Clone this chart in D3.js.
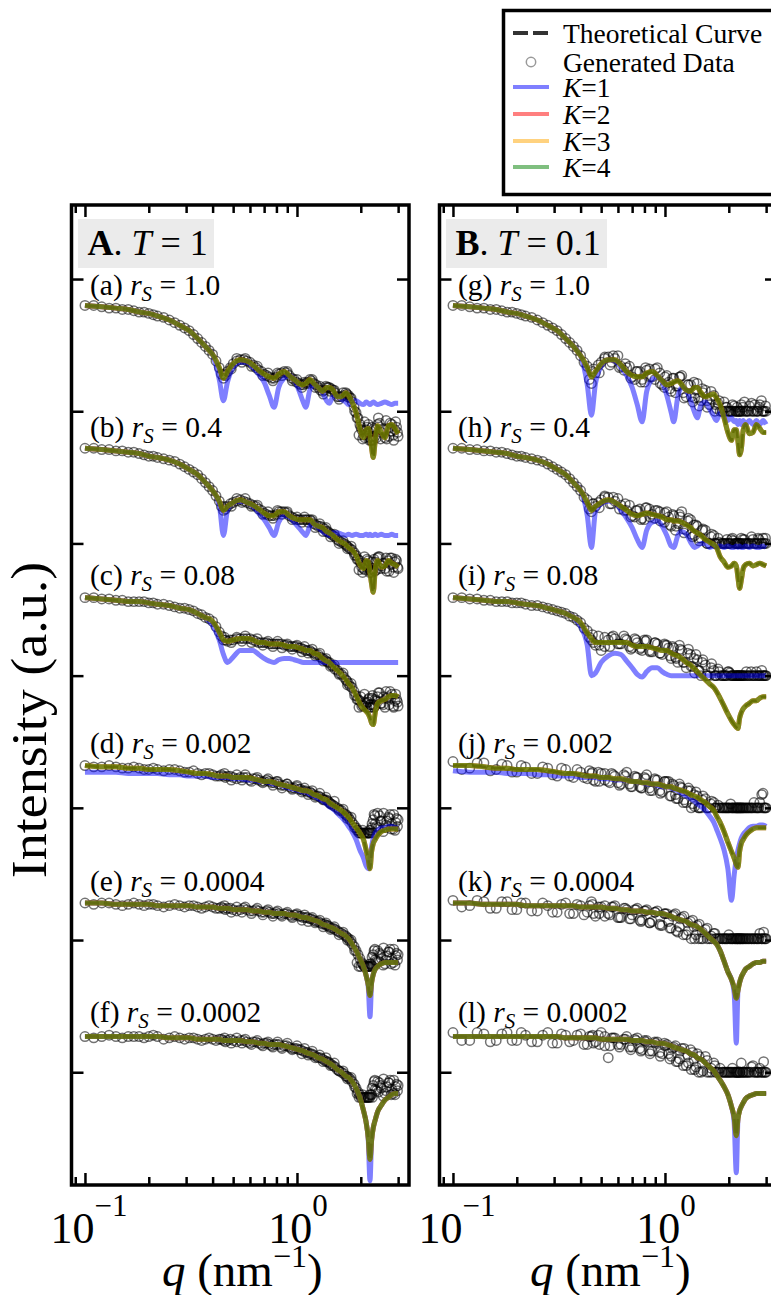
<!DOCTYPE html>
<html>
<head>
<meta charset="utf-8">
<script src="https://cdn.jsdelivr.net/npm/d3@7"></script>
<style>
  body { margin: 0; background: #fff; }
  svg text { font-family: "Liberation Serif", "Times New Roman", serif; fill: #000; }
</style>
</head>
<body>
<div id="chart"></div>
<script>
// q grid (nm^-1) shared by the curves and the generated data
var qGrid = [0.10,0.12,0.14,0.16,0.18,0.20,0.22,0.25,0.28,0.31,0.34,0.37,0.40,0.43,0.45,0.47,0.50,0.54,0.58,0.62,0.66,0.70,0.74,0.78,0.82,0.87,0.92,0.97,1.02,1.07,1.10,1.15,1.20,1.26,1.32,1.38,1.42,1.48,1.55,1.62,1.70,1.75,1.82,1.90,1.98,2.06,2.12,2.17,2.21,2.25,2.29,2.34,2.40,2.50,2.60,2.70,2.80,2.90,3.00];
// further generated points
var qLow = [0.11,0.13,0.15,0.17,0.19,0.21,0.235,0.265,0.295,0.325,0.355,0.385,0.415,0.44,0.46,0.485,0.52,0.56,0.60,0.64,0.68,0.72,0.76,0.80,0.845,0.895,0.945,0.995];
var qMid = [0.455,0.49,0.52,0.55,0.57,0.61,0.65,0.69,0.73,0.77,0.81,0.85,0.90,0.95,1.00,1.055,1.085,1.13,1.18,1.22,1.28,1.33,1.37,1.44,1.50,1.58,1.65,1.73,1.80,1.87];
var qDense = [1.04,1.12,1.17,1.23,1.29,1.35,1.40,1.45,1.51,1.58,1.66,1.72,1.78,1.86,1.94,2.02,2.09,2.14,2.19,2.23,2.27,2.31,2.37,2.45,2.55,2.65,2.75,2.85,2.95];
var qCluster = [1.92,1.96,2.00,2.04,2.08,2.16,2.20,2.26,2.33,2.42,2.48,2.56,2.63,2.72,2.78,2.86,2.92,2.98];

// all values are log10(intensity), already offset per curve

// ---- panel A, T = 1
var fit_a = [-0.20,-0.21,-0.22,-0.23,-0.25,-0.26,-0.28,-0.31,-0.35,-0.39,-0.45,-0.51,-0.57,-0.67,-0.75,-0.70,-0.64,-0.61,-0.62,-0.65,-0.69,-0.72,-0.74,-0.75,-0.72,-0.70,-0.73,-0.76,-0.79,-0.80,-0.79,-0.76,-0.79,-0.82,-0.85,-0.82,-0.82,-0.84,-0.89,-0.89,-0.86,-0.88,-0.93,-1.01,-1.13,-1.20,-1.14,-1.13,-1.19,-1.28,-1.35,-1.22,-1.11,-1.16,-1.20,-1.11,-1.10,-1.13,-1.17];
var k1_a = [-0.20,-0.21,-0.22,-0.23,-0.25,-0.26,-0.28,-0.31,-0.35,-0.39,-0.45,-0.51,-0.57,-0.76,-0.92,-0.78,-0.67,-0.63,-0.63,-0.67,-0.72,-0.78,-0.88,-0.97,-0.82,-0.75,-0.73,-0.76,-0.84,-0.93,-0.97,-0.84,-0.80,-0.82,-0.86,-0.92,-0.94,-0.89,-0.89,-0.91,-0.93,-0.95,-0.92,-0.92,-0.94,-0.95,-0.93,-0.94,-0.95,-0.94,-0.93,-0.94,-0.95,-0.94,-0.93,-0.94,-0.95,-0.94,-0.94];
var data_a = [-0.20,-0.21,-0.22,-0.23,-0.25,-0.26,-0.28,-0.31,-0.35,-0.39,-0.45,-0.51,-0.57,-0.67,-0.75,-0.70,-0.64,-0.61,-0.62,-0.65,-0.69,-0.72,-0.74,-0.75,-0.72,-0.70,-0.73,-0.76,-0.79,-0.80,-0.79,-0.76,-0.79,-0.82,-0.85,-0.82,-0.82,-0.84,-0.89,-0.89,-0.86,-0.88,-0.93,-1.01,-1.10,-1.18,-1.14,-1.10,-1.20,-1.22,-1.22,-1.14,-1.10,-1.16,-1.20,-1.13,-1.10,-1.14,-1.19];
var low_a = [-0.20,-0.22,-0.23,-0.24,-0.25,-0.27,-0.29,-0.33,-0.37,-0.42,-0.48,-0.54,-0.62,-0.72,-0.73,-0.67,-0.62,-0.61,-0.63,-0.67,-0.70,-0.73,-0.75,-0.74,-0.71,-0.71,-0.75,-0.78];
var mid_a = [-0.72,-0.68,-0.60,-0.63,-0.60,-0.66,-0.66,-0.73,-0.71,-0.77,-0.71,-0.73,-0.70,-0.77,-0.76,-0.82,-0.78,-0.79,-0.76,-0.82,-0.81,-0.87,-0.81,-0.85,-0.84,-0.91,-0.86,-0.89,-0.90,-1.00];
var dense_a = [-0.80,-0.78,-0.77,-0.80,-0.84,-0.84,-0.82,-0.83,-0.86,-0.89,-0.88,-0.87,-0.90,-0.97,-1.05,-1.14,-1.20,-1.12,-1.16,-1.22,-1.19,-1.13,-1.20,-1.09,-1.14,-1.21,-1.09,-1.18,-1.12];
var clust_a = [-1.05,-1.18,-1.12,-1.21,-1.08,-1.16,-1.22,-1.12,-1.19,-1.05,-1.21,-1.13,-1.07,-1.19,-1.15,-1.22,-1.08,-1.16];

var fit_b = [-1.28,-1.29,-1.30,-1.31,-1.32,-1.34,-1.35,-1.37,-1.40,-1.44,-1.48,-1.54,-1.60,-1.68,-1.75,-1.72,-1.69,-1.67,-1.69,-1.71,-1.74,-1.77,-1.79,-1.79,-1.76,-1.76,-1.79,-1.81,-1.82,-1.82,-1.82,-1.82,-1.85,-1.87,-1.88,-1.91,-1.92,-1.94,-1.97,-1.99,-2.01,-2.03,-2.05,-2.09,-2.16,-2.19,-2.13,-2.14,-2.22,-2.31,-2.37,-2.20,-2.13,-2.18,-2.17,-2.13,-2.15,-2.16,-2.18];
var k1_b = [-1.28,-1.29,-1.30,-1.31,-1.32,-1.34,-1.35,-1.37,-1.40,-1.44,-1.48,-1.54,-1.60,-1.71,-1.94,-1.75,-1.69,-1.68,-1.69,-1.72,-1.77,-1.82,-1.88,-1.94,-1.84,-1.79,-1.80,-1.84,-1.88,-1.92,-1.94,-1.87,-1.85,-1.88,-1.91,-1.93,-1.94,-1.92,-1.92,-1.93,-1.94,-1.93,-1.94,-1.93,-1.94,-1.94,-1.93,-1.94,-1.93,-1.94,-1.94,-1.93,-1.94,-1.93,-1.94,-1.94,-1.93,-1.94,-1.94];
var data_b = [-1.28,-1.29,-1.30,-1.31,-1.32,-1.34,-1.35,-1.37,-1.40,-1.44,-1.48,-1.54,-1.60,-1.68,-1.75,-1.72,-1.69,-1.67,-1.69,-1.71,-1.74,-1.77,-1.79,-1.79,-1.76,-1.76,-1.79,-1.81,-1.82,-1.82,-1.82,-1.82,-1.85,-1.87,-1.88,-1.91,-1.92,-1.94,-1.97,-1.99,-2.01,-2.03,-2.05,-2.09,-2.13,-2.19,-2.16,-2.13,-2.20,-2.22,-2.20,-2.14,-2.11,-2.17,-2.19,-2.13,-2.11,-2.14,-2.19];
var low_b = [-1.28,-1.29,-1.30,-1.31,-1.33,-1.34,-1.36,-1.38,-1.42,-1.46,-1.51,-1.57,-1.64,-1.72,-1.74,-1.70,-1.68,-1.68,-1.70,-1.72,-1.75,-1.78,-1.79,-1.78,-1.76,-1.77,-1.80,-1.82];
var mid_b = [-1.72,-1.72,-1.66,-1.69,-1.66,-1.72,-1.71,-1.78,-1.76,-1.81,-1.75,-1.78,-1.76,-1.82,-1.80,-1.84,-1.80,-1.84,-1.82,-1.88,-1.85,-1.91,-1.88,-1.95,-1.93,-2.00,-1.98,-2.04,-2.02,-2.09];
var dense_b = [-1.82,-1.82,-1.83,-1.86,-1.87,-1.89,-1.91,-1.93,-1.95,-1.98,-2.00,-2.02,-2.04,-2.07,-2.12,-2.18,-2.20,-2.12,-2.17,-2.21,-2.19,-2.12,-2.20,-2.10,-2.15,-2.21,-2.11,-2.18,-2.13];
var clust_b = [-2.12,-2.20,-2.15,-2.22,-2.10,-2.18,-2.22,-2.14,-2.21,-2.10,-2.19,-2.15,-2.11,-2.21,-2.16,-2.22,-2.12,-2.18];

var fit_c = [-2.41,-2.42,-2.43,-2.44,-2.44,-2.45,-2.46,-2.47,-2.49,-2.50,-2.53,-2.56,-2.59,-2.67,-2.73,-2.74,-2.73,-2.72,-2.72,-2.73,-2.75,-2.75,-2.76,-2.76,-2.76,-2.77,-2.78,-2.78,-2.79,-2.80,-2.81,-2.81,-2.83,-2.84,-2.87,-2.89,-2.90,-2.93,-2.96,-2.99,-3.03,-3.06,-3.09,-3.15,-3.21,-3.25,-3.27,-3.29,-3.32,-3.36,-3.37,-3.28,-3.21,-3.19,-3.18,-3.16,-3.15,-3.15,-3.16];
var k1_c = [-2.41,-2.42,-2.43,-2.44,-2.44,-2.45,-2.46,-2.47,-2.49,-2.50,-2.53,-2.56,-2.62,-2.73,-2.84,-2.90,-2.86,-2.81,-2.81,-2.81,-2.84,-2.87,-2.89,-2.90,-2.88,-2.87,-2.87,-2.88,-2.89,-2.90,-2.90,-2.90,-2.90,-2.90,-2.90,-2.90,-2.90,-2.90,-2.90,-2.90,-2.90,-2.90,-2.90,-2.90,-2.90,-2.90,-2.90,-2.90,-2.90,-2.90,-2.90,-2.90,-2.90,-2.90,-2.90,-2.90,-2.90,-2.90,-2.90];
var data_c = [-2.41,-2.42,-2.43,-2.44,-2.44,-2.45,-2.46,-2.47,-2.49,-2.50,-2.53,-2.56,-2.59,-2.67,-2.73,-2.74,-2.73,-2.72,-2.72,-2.73,-2.75,-2.75,-2.76,-2.76,-2.76,-2.77,-2.78,-2.78,-2.79,-2.80,-2.81,-2.81,-2.83,-2.84,-2.87,-2.89,-2.90,-2.93,-2.96,-2.99,-3.03,-3.06,-3.09,-3.15,-3.19,-3.23,-3.21,-3.18,-3.22,-3.24,-3.22,-3.18,-3.16,-3.21,-3.24,-3.16,-3.14,-3.19,-3.23];
var low_c = [-2.41,-2.42,-2.43,-2.44,-2.44,-2.45,-2.46,-2.48,-2.49,-2.51,-2.54,-2.57,-2.63,-2.70,-2.73,-2.73,-2.72,-2.72,-2.72,-2.74,-2.75,-2.75,-2.76,-2.76,-2.76,-2.77,-2.78,-2.78];
var mid_c = [-2.71,-2.75,-2.71,-2.74,-2.70,-2.75,-2.72,-2.77,-2.74,-2.78,-2.74,-2.79,-2.76,-2.80,-2.77,-2.82,-2.78,-2.83,-2.80,-2.85,-2.83,-2.89,-2.87,-2.93,-2.92,-2.99,-2.98,-3.07,-3.06,-3.15];
var dense_c = [-2.79,-2.81,-2.82,-2.84,-2.86,-2.88,-2.90,-2.92,-2.95,-2.98,-3.01,-3.04,-3.08,-3.12,-3.18,-3.23,-3.20,-3.24,-3.17,-3.22,-3.15,-3.24,-3.19,-3.13,-3.22,-3.17,-3.12,-3.23,-3.18];
var clust_c = [-3.18,-3.24,-3.16,-3.22,-3.14,-3.20,-3.24,-3.17,-3.23,-3.13,-3.21,-3.16,-3.12,-3.22,-3.17,-3.24,-3.14,-3.20];

var fit_d = [-3.68,-3.69,-3.69,-3.70,-3.70,-3.71,-3.71,-3.71,-3.72,-3.73,-3.74,-3.74,-3.75,-3.76,-3.76,-3.76,-3.77,-3.77,-3.77,-3.78,-3.79,-3.80,-3.80,-3.81,-3.82,-3.83,-3.84,-3.85,-3.86,-3.87,-3.87,-3.88,-3.90,-3.91,-3.93,-3.94,-3.96,-3.98,-4.00,-4.02,-4.05,-4.07,-4.11,-4.15,-4.19,-4.24,-4.32,-4.39,-4.46,-4.33,-4.27,-4.24,-4.21,-4.18,-4.17,-4.16,-4.16,-4.16,-4.16];
var k1_d = [-3.73,-3.73,-3.73,-3.74,-3.74,-3.74,-3.74,-3.75,-3.75,-3.76,-3.76,-3.76,-3.77,-3.77,-3.77,-3.77,-3.78,-3.78,-3.79,-3.79,-3.80,-3.80,-3.81,-3.82,-3.82,-3.84,-3.85,-3.86,-3.87,-3.88,-3.88,-3.90,-3.91,-3.93,-3.95,-3.97,-3.99,-4.01,-4.04,-4.07,-4.11,-4.14,-4.18,-4.24,-4.32,-4.38,-4.44,-4.46,-4.38,-4.29,-4.23,-4.19,-4.17,-4.15,-4.15,-4.14,-4.14,-4.15,-4.15];
var data_d = [-3.68,-3.69,-3.69,-3.70,-3.70,-3.71,-3.71,-3.71,-3.72,-3.73,-3.74,-3.74,-3.75,-3.76,-3.76,-3.76,-3.77,-3.77,-3.77,-3.78,-3.79,-3.80,-3.80,-3.81,-3.82,-3.83,-3.84,-3.85,-3.86,-3.87,-3.87,-3.88,-3.90,-3.91,-3.93,-3.94,-3.96,-3.98,-4.00,-4.02,-4.05,-4.07,-4.11,-4.15,-4.19,-4.19,-4.19,-4.19,-4.19,-4.15,-4.09,-4.12,-4.04,-4.10,-4.15,-4.07,-4.12,-4.17,-4.09];
var low_d = [-3.69,-3.68,-3.70,-3.69,-3.71,-3.70,-3.72,-3.71,-3.73,-3.72,-3.75,-3.74,-3.76,-3.75,-3.77,-3.76,-3.78,-3.77,-3.79,-3.78,-3.80,-3.79,-3.81,-3.80,-3.83,-3.82,-3.85,-3.84];
var mid_d = [-3.74,-3.79,-3.75,-3.79,-3.75,-3.80,-3.77,-3.81,-3.78,-3.83,-3.80,-3.85,-3.82,-3.86,-3.83,-3.88,-3.85,-3.90,-3.87,-3.92,-3.89,-3.94,-3.92,-3.97,-3.95,-4.02,-4.01,-4.08,-4.07,-4.15];
var dense_d = [-3.86,-3.88,-3.89,-3.91,-3.92,-3.94,-3.95,-3.97,-3.99,-4.01,-4.04,-4.06,-4.09,-4.13,-4.17,-4.19,-4.19,-4.19,-4.19,-4.17,-4.19,-4.05,-4.14,-4.06,-4.18,-4.10,-4.05,-4.16,-4.08];
var clust_d = [-4.17,-4.19,-4.19,-4.17,-4.19,-4.19,-4.17,-4.12,-4.06,-4.15,-4.10,-4.04,-4.13,-4.08,-4.16,-4.05,-4.11,-4.14];

var fit_e = [-4.72,-4.72,-4.73,-4.73,-4.73,-4.73,-4.74,-4.74,-4.74,-4.74,-4.75,-4.75,-4.75,-4.76,-4.76,-4.76,-4.77,-4.77,-4.77,-4.78,-4.78,-4.79,-4.79,-4.80,-4.80,-4.80,-4.81,-4.81,-4.82,-4.83,-4.83,-4.84,-4.85,-4.86,-4.88,-4.89,-4.90,-4.91,-4.93,-4.95,-4.97,-4.99,-5.03,-5.08,-5.14,-5.20,-5.27,-5.34,-5.42,-5.32,-5.26,-5.22,-5.20,-5.18,-5.17,-5.17,-5.17,-5.17,-5.17];
var k1_e = [-4.72,-4.72,-4.73,-4.73,-4.73,-4.73,-4.74,-4.74,-4.74,-4.74,-4.75,-4.75,-4.75,-4.76,-4.76,-4.76,-4.77,-4.77,-4.77,-4.78,-4.78,-4.79,-4.79,-4.80,-4.80,-4.80,-4.81,-4.81,-4.82,-4.83,-4.83,-4.84,-4.85,-4.86,-4.88,-4.89,-4.90,-4.91,-4.93,-4.95,-4.97,-4.99,-5.03,-5.08,-5.14,-5.20,-5.27,-5.36,-5.58,-5.32,-5.26,-5.22,-5.20,-5.18,-5.17,-5.17,-5.17,-5.17,-5.17];
var data_e = [-4.72,-4.72,-4.73,-4.73,-4.73,-4.73,-4.74,-4.74,-4.74,-4.74,-4.75,-4.75,-4.75,-4.76,-4.76,-4.76,-4.77,-4.77,-4.77,-4.78,-4.78,-4.79,-4.79,-4.80,-4.80,-4.80,-4.81,-4.81,-4.82,-4.83,-4.83,-4.84,-4.85,-4.86,-4.88,-4.89,-4.90,-4.91,-4.93,-4.95,-4.97,-4.99,-5.03,-5.08,-5.14,-5.19,-5.20,-5.20,-5.20,-5.19,-5.11,-5.15,-5.08,-5.14,-5.18,-5.09,-5.14,-5.19,-5.11];
var low_e = [-4.73,-4.72,-4.74,-4.72,-4.74,-4.73,-4.75,-4.73,-4.75,-4.74,-4.76,-4.74,-4.76,-4.75,-4.77,-4.76,-4.78,-4.76,-4.78,-4.77,-4.79,-4.78,-4.80,-4.79,-4.81,-4.80,-4.82,-4.81];
var mid_e = [-4.74,-4.79,-4.75,-4.79,-4.75,-4.80,-4.76,-4.81,-4.77,-4.82,-4.78,-4.82,-4.79,-4.83,-4.80,-4.85,-4.81,-4.86,-4.83,-4.87,-4.85,-4.90,-4.87,-4.92,-4.90,-4.96,-4.94,-5.00,-5.00,-5.08];
var dense_e = [-4.82,-4.83,-4.84,-4.86,-4.87,-4.88,-4.89,-4.91,-4.92,-4.94,-4.96,-4.98,-5.01,-5.05,-5.11,-5.17,-5.20,-5.20,-5.20,-5.18,-5.20,-5.08,-5.16,-5.10,-5.19,-5.12,-5.07,-5.17,-5.10];
var clust_e = [-5.17,-5.20,-5.20,-5.18,-5.20,-5.20,-5.18,-5.13,-5.07,-5.16,-5.11,-5.06,-5.15,-5.09,-5.18,-5.07,-5.12,-5.15];

var fit_f = [-5.73,-5.73,-5.73,-5.73,-5.73,-5.73,-5.73,-5.74,-5.74,-5.74,-5.75,-5.75,-5.75,-5.75,-5.76,-5.76,-5.76,-5.76,-5.77,-5.77,-5.78,-5.78,-5.79,-5.79,-5.79,-5.80,-5.81,-5.82,-5.83,-5.84,-5.85,-5.86,-5.87,-5.89,-5.90,-5.92,-5.93,-5.95,-5.98,-6.00,-6.03,-6.04,-6.07,-6.12,-6.19,-6.29,-6.38,-6.50,-6.66,-6.51,-6.42,-6.36,-6.30,-6.25,-6.21,-6.19,-6.17,-6.16,-6.16];
var k1_f = [-5.73,-5.73,-5.73,-5.73,-5.73,-5.73,-5.73,-5.74,-5.74,-5.74,-5.75,-5.75,-5.75,-5.75,-5.76,-5.76,-5.76,-5.76,-5.77,-5.77,-5.78,-5.78,-5.79,-5.79,-5.79,-5.80,-5.81,-5.82,-5.83,-5.84,-5.85,-5.86,-5.87,-5.89,-5.90,-5.92,-5.93,-5.95,-5.98,-6.00,-6.03,-6.04,-6.07,-6.12,-6.19,-6.29,-6.38,-6.52,-6.82,-6.51,-6.42,-6.36,-6.30,-6.25,-6.21,-6.19,-6.17,-6.16,-6.16];
var data_f = [-5.73,-5.73,-5.73,-5.73,-5.73,-5.73,-5.73,-5.74,-5.74,-5.74,-5.75,-5.75,-5.75,-5.75,-5.76,-5.76,-5.76,-5.76,-5.77,-5.77,-5.78,-5.78,-5.79,-5.79,-5.79,-5.80,-5.81,-5.82,-5.83,-5.84,-5.85,-5.86,-5.87,-5.89,-5.90,-5.92,-5.93,-5.95,-5.98,-6.00,-6.03,-6.04,-6.07,-6.12,-6.17,-6.19,-6.19,-6.19,-6.19,-6.17,-6.10,-6.13,-6.07,-6.12,-6.16,-6.08,-6.13,-6.17,-6.10];
var low_f = [-5.74,-5.72,-5.74,-5.73,-5.74,-5.72,-5.75,-5.73,-5.75,-5.74,-5.76,-5.74,-5.76,-5.75,-5.77,-5.75,-5.77,-5.76,-5.78,-5.77,-5.79,-5.78,-5.80,-5.79,-5.81,-5.80,-5.82,-5.82];
var mid_f = [-5.74,-5.78,-5.74,-5.78,-5.75,-5.79,-5.76,-5.80,-5.77,-5.81,-5.77,-5.82,-5.78,-5.83,-5.80,-5.86,-5.82,-5.87,-5.84,-5.89,-5.87,-5.92,-5.89,-5.95,-5.93,-5.99,-5.99,-6.05,-6.04,-6.11];
var dense_f = [-5.83,-5.85,-5.86,-5.88,-5.89,-5.91,-5.92,-5.94,-5.96,-5.99,-6.01,-6.03,-6.05,-6.09,-6.15,-6.19,-6.19,-6.19,-6.19,-6.17,-6.19,-6.07,-6.14,-6.08,-6.18,-6.11,-6.06,-6.16,-6.09];
var clust_f = [-6.16,-6.19,-6.19,-6.17,-6.19,-6.19,-6.17,-6.12,-6.06,-6.15,-6.10,-6.05,-6.14,-6.08,-6.17,-6.06,-6.11,-6.14];

// ---- panel B, T = 0.1
var fit_g = [-0.20,-0.21,-0.22,-0.23,-0.25,-0.26,-0.28,-0.31,-0.35,-0.39,-0.45,-0.51,-0.58,-0.67,-0.74,-0.70,-0.64,-0.61,-0.61,-0.65,-0.70,-0.73,-0.74,-0.74,-0.71,-0.70,-0.73,-0.77,-0.80,-0.79,-0.78,-0.77,-0.80,-0.84,-0.85,-0.82,-0.82,-0.86,-0.89,-0.88,-0.87,-0.90,-0.95,-1.05,-1.16,-1.22,-1.14,-1.14,-1.23,-1.33,-1.29,-1.14,-1.10,-1.17,-1.16,-1.10,-1.13,-1.16,-1.16];
var k1_g = [-0.20,-0.21,-0.22,-0.23,-0.25,-0.26,-0.28,-0.31,-0.35,-0.39,-0.45,-0.51,-0.58,-0.80,-1.03,-0.79,-0.66,-0.61,-0.62,-0.67,-0.73,-0.82,-0.95,-1.08,-0.85,-0.76,-0.74,-0.78,-0.88,-1.01,-1.08,-0.89,-0.82,-0.84,-0.92,-1.01,-1.05,-0.95,-0.93,-0.98,-1.04,-1.07,-1.01,-1.03,-1.07,-1.05,-1.08,-1.07,-1.10,-1.07,-1.10,-1.07,-1.10,-1.07,-1.10,-1.07,-1.10,-1.07,-1.10];
var data_g = [-0.20,-0.21,-0.22,-0.23,-0.25,-0.26,-0.28,-0.31,-0.35,-0.39,-0.45,-0.51,-0.58,-0.66,-0.79,-0.71,-0.63,-0.59,-0.60,-0.66,-0.67,-0.74,-0.70,-0.76,-0.69,-0.74,-0.67,-0.80,-0.73,-0.85,-0.75,-0.81,-0.73,-0.89,-0.80,-0.90,-0.79,-0.92,-0.84,-0.95,-0.88,-0.98,-1.00,-0.93,-1.00,-1.00,-0.96,-1.00,-1.00,-1.00,-0.95,-1.00,-1.00,-0.96,-1.00,-1.00,-0.95,-1.00,-1.00];
var low_g = [-0.20,-0.22,-0.23,-0.24,-0.25,-0.27,-0.29,-0.33,-0.37,-0.42,-0.48,-0.54,-0.63,-0.76,-0.68,-0.65,-0.60,-0.63,-0.58,-0.69,-0.66,-0.76,-0.70,-0.78,-0.68,-0.76,-0.71,-0.82];
var mid_g = [-0.70,-0.71,-0.59,-0.65,-0.58,-0.67,-0.64,-0.75,-0.70,-0.78,-0.67,-0.74,-0.68,-0.79,-0.74,-0.83,-0.75,-0.81,-0.74,-0.86,-0.80,-0.89,-0.78,-0.90,-0.83,-0.92,-0.85,-0.95,-0.92,-1.00];
var dense_g = [-0.78,-0.86,-0.74,-0.90,-0.80,-0.93,-0.84,-0.96,-0.86,-0.97,-0.91,-1.00,-0.94,-1.00,-0.97,-1.00,-1.00,-1.00,-0.97,-1.00,-1.00,-1.00,-0.93,-1.00,-1.00,-0.95,-1.00,-0.92,-1.00];
var clust_g = [-1.00,-0.97,-1.00,-1.00,-0.95,-1.00,-1.00,-1.00,-0.97,-1.00,-1.00,-0.94,-1.00,-1.00,-0.97,-1.00,-1.00,-0.96];

var fit_h = [-1.28,-1.29,-1.30,-1.31,-1.32,-1.34,-1.35,-1.37,-1.40,-1.44,-1.48,-1.54,-1.60,-1.69,-1.75,-1.72,-1.69,-1.67,-1.69,-1.72,-1.75,-1.78,-1.79,-1.78,-1.77,-1.78,-1.79,-1.80,-1.82,-1.82,-1.83,-1.83,-1.84,-1.86,-1.88,-1.91,-1.92,-1.94,-1.97,-1.99,-2.01,-2.03,-2.10,-2.14,-2.18,-2.17,-2.15,-2.17,-2.26,-2.34,-2.28,-2.19,-2.16,-2.15,-2.17,-2.16,-2.15,-2.16,-2.17];
var k1_h = [-1.28,-1.29,-1.30,-1.31,-1.32,-1.34,-1.35,-1.37,-1.40,-1.44,-1.48,-1.54,-1.60,-1.79,-2.03,-1.76,-1.70,-1.68,-1.69,-1.75,-1.81,-1.88,-1.97,-2.03,-1.90,-1.84,-1.83,-1.87,-1.94,-2.02,-2.03,-1.94,-1.91,-1.93,-1.99,-2.03,-2.02,-2.00,-2.00,-2.03,-2.02,-2.03,-2.02,-2.03,-2.02,-2.03,-2.03,-2.02,-2.03,-2.02,-2.03,-2.03,-2.02,-2.03,-2.02,-2.03,-2.03,-2.02,-2.03];
var data_h = [-1.28,-1.29,-1.30,-1.31,-1.32,-1.34,-1.35,-1.37,-1.40,-1.44,-1.48,-1.54,-1.60,-1.67,-1.76,-1.72,-1.67,-1.65,-1.68,-1.71,-1.75,-1.79,-1.75,-1.81,-1.73,-1.78,-1.75,-1.82,-1.76,-1.87,-1.79,-1.85,-1.76,-1.90,-1.82,-1.94,-1.87,-1.96,-1.90,-2.00,-1.94,-2.00,-2.00,-2.00,-2.00,-1.97,-2.00,-2.00,-2.00,-2.00,-1.96,-2.00,-2.00,-2.00,-1.97,-2.00,-2.00,-1.96,-2.00];
var low_h = [-1.28,-1.29,-1.30,-1.31,-1.33,-1.34,-1.36,-1.38,-1.42,-1.46,-1.51,-1.57,-1.65,-1.74,-1.70,-1.69,-1.65,-1.70,-1.66,-1.75,-1.71,-1.80,-1.74,-1.82,-1.74,-1.81,-1.76,-1.84];
var mid_h = [-1.70,-1.73,-1.64,-1.70,-1.65,-1.74,-1.70,-1.80,-1.75,-1.82,-1.73,-1.80,-1.75,-1.83,-1.77,-1.86,-1.78,-1.87,-1.80,-1.89,-1.83,-1.93,-1.86,-1.96,-1.90,-2.00,-1.95,-2.00,-1.99,-2.00];
var dense_h = [-1.80,-1.90,-1.78,-1.92,-1.81,-1.95,-1.86,-1.98,-1.89,-2.00,-1.93,-2.00,-1.96,-2.00,-2.00,-2.00,-1.98,-2.00,-2.00,-2.00,-2.00,-2.00,-1.97,-2.00,-2.00,-2.00,-1.96,-2.00,-2.00];
var clust_h = [-2.00,-1.97,-2.00,-2.00,-1.96,-2.00,-2.00,-2.00,-1.97,-2.00,-2.00,-1.95,-2.00,-2.00,-1.97,-2.00,-2.00,-1.96];

var fit_i = [-2.41,-2.42,-2.43,-2.44,-2.44,-2.45,-2.46,-2.47,-2.49,-2.51,-2.53,-2.56,-2.60,-2.68,-2.72,-2.75,-2.75,-2.75,-2.75,-2.75,-2.75,-2.77,-2.78,-2.78,-2.78,-2.79,-2.80,-2.81,-2.81,-2.83,-2.84,-2.85,-2.87,-2.90,-2.92,-2.95,-2.97,-3.00,-3.03,-3.06,-3.09,-3.12,-3.17,-3.23,-3.29,-3.34,-3.37,-3.39,-3.40,-3.32,-3.28,-3.25,-3.23,-3.21,-3.19,-3.19,-3.17,-3.16,-3.16];
var k1_i = [-2.41,-2.42,-2.43,-2.44,-2.44,-2.45,-2.46,-2.47,-2.49,-2.51,-2.53,-2.56,-2.63,-2.77,-3.00,-2.98,-2.90,-2.85,-2.83,-2.84,-2.89,-2.94,-2.99,-3.01,-2.97,-2.94,-2.94,-2.97,-2.99,-3.00,-3.00,-3.00,-3.00,-3.00,-3.00,-3.00,-3.00,-3.00,-3.00,-3.00,-3.00,-3.00,-3.00,-3.00,-3.00,-3.00,-3.00,-3.00,-3.00,-3.00,-3.00,-3.00,-3.00,-3.00,-3.00,-3.00,-3.00,-3.00,-3.00];
var data_i = [-2.41,-2.42,-2.43,-2.44,-2.44,-2.45,-2.46,-2.47,-2.49,-2.51,-2.53,-2.56,-2.60,-2.66,-2.73,-2.77,-2.81,-2.73,-2.72,-2.76,-2.73,-2.79,-2.75,-2.81,-2.73,-2.82,-2.76,-2.84,-2.77,-2.87,-2.79,-2.90,-2.81,-2.94,-2.84,-2.98,-2.88,-3.00,-2.92,-3.00,-2.96,-3.00,-3.00,-3.00,-2.97,-3.00,-3.00,-3.00,-3.00,-3.00,-3.00,-3.00,-3.00,-3.00,-3.00,-2.97,-3.00,-3.00,-3.00];
var low_i = [-2.41,-2.42,-2.43,-2.44,-2.45,-2.45,-2.47,-2.48,-2.50,-2.52,-2.55,-2.58,-2.64,-2.71,-2.75,-2.70,-2.78,-2.71,-2.76,-2.70,-2.78,-2.72,-2.80,-2.73,-2.81,-2.75,-2.83,-2.76];
var mid_i = [-2.69,-2.77,-2.71,-2.78,-2.70,-2.76,-2.72,-2.80,-2.73,-2.79,-2.74,-2.82,-2.75,-2.83,-2.77,-2.85,-2.78,-2.87,-2.80,-2.90,-2.83,-2.93,-2.87,-2.96,-2.90,-3.00,-2.94,-3.00,-2.97,-3.00];
var dense_i = [-2.79,-2.86,-2.77,-2.90,-2.80,-2.93,-2.84,-2.96,-2.88,-3.00,-2.91,-3.00,-2.95,-3.00,-3.00,-2.98,-3.00,-3.00,-3.00,-3.00,-3.00,-3.00,-3.00,-3.00,-2.97,-3.00,-3.00,-3.00,-3.00];
var clust_i = [-3.00,-3.00,-2.97,-3.00,-3.00,-3.00,-3.00,-3.00,-3.00,-2.97,-3.00,-3.00,-3.00,-3.00,-3.00,-2.96,-3.00,-3.00];

var fit_j = [-3.68,-3.68,-3.69,-3.70,-3.70,-3.71,-3.71,-3.71,-3.72,-3.73,-3.74,-3.74,-3.75,-3.76,-3.76,-3.76,-3.77,-3.77,-3.78,-3.78,-3.79,-3.80,-3.80,-3.81,-3.81,-3.82,-3.82,-3.83,-3.84,-3.84,-3.85,-3.86,-3.87,-3.88,-3.90,-3.91,-3.92,-3.94,-3.96,-3.99,-4.02,-4.06,-4.11,-4.18,-4.26,-4.33,-4.38,-4.43,-4.45,-4.33,-4.27,-4.24,-4.21,-4.18,-4.16,-4.15,-4.15,-4.15,-4.15];
var k1_j = [-3.72,-3.73,-3.73,-3.73,-3.74,-3.74,-3.74,-3.75,-3.75,-3.76,-3.76,-3.76,-3.77,-3.77,-3.77,-3.77,-3.78,-3.78,-3.79,-3.79,-3.79,-3.80,-3.80,-3.81,-3.82,-3.82,-3.83,-3.84,-3.84,-3.85,-3.86,-3.87,-3.89,-3.91,-3.93,-3.95,-3.97,-3.99,-4.02,-4.06,-4.11,-4.16,-4.23,-4.32,-4.46,-4.70,-4.51,-4.38,-4.32,-4.27,-4.23,-4.20,-4.18,-4.15,-4.14,-4.14,-4.13,-4.13,-4.14];
var data_j = [-3.65,-3.70,-3.66,-3.71,-3.68,-3.73,-3.69,-3.74,-3.70,-3.76,-3.71,-3.77,-3.73,-3.78,-3.74,-3.80,-3.74,-3.80,-3.76,-3.82,-3.73,-3.84,-3.77,-3.85,-3.75,-3.87,-3.79,-3.88,-3.80,-3.91,-3.83,-3.93,-3.85,-3.96,-3.87,-3.99,-3.91,-4.00,-3.93,-4.00,-3.96,-4.00,-4.00,-4.00,-4.00,-4.00,-4.00,-4.00,-4.00,-4.00,-4.00,-4.00,-4.00,-4.00,-4.00,-4.00,-3.96,-3.89,-4.00];
var low_j = [-3.71,-3.66,-3.72,-3.67,-3.73,-3.68,-3.74,-3.69,-3.75,-3.70,-3.76,-3.71,-3.77,-3.72,-3.79,-3.73,-3.79,-3.74,-3.81,-3.75,-3.82,-3.76,-3.84,-3.77,-3.85,-3.78,-3.87,-3.80];
var mid_j = [-3.73,-3.80,-3.74,-3.81,-3.75,-3.83,-3.76,-3.84,-3.77,-3.85,-3.78,-3.87,-3.79,-3.89,-3.80,-3.91,-3.82,-3.93,-3.84,-3.96,-3.87,-4.00,-3.90,-4.00,-3.94,-4.00,-3.97,-4.00,-4.00,-4.00];
var dense_j = [-3.80,-3.90,-3.82,-3.94,-3.85,-3.97,-3.88,-4.00,-3.91,-4.00,-3.95,-4.00,-3.98,-4.00,-4.00,-4.00,-4.00,-4.00,-4.00,-4.00,-4.00,-4.00,-4.00,-4.00,-4.00,-4.00,-4.00,-4.00,-4.00];
var clust_j = [-4.00,-4.00,-4.00,-3.97,-4.00,-4.00,-4.00,-4.00,-4.00,-4.00,-4.00,-4.00,-3.96,-4.00,-4.00,-3.90,-4.00,-4.00];

var fit_k = [-4.72,-4.72,-4.73,-4.73,-4.73,-4.73,-4.74,-4.74,-4.74,-4.74,-4.74,-4.74,-4.75,-4.75,-4.75,-4.75,-4.75,-4.76,-4.76,-4.77,-4.77,-4.78,-4.78,-4.78,-4.79,-4.79,-4.80,-4.80,-4.81,-4.82,-4.83,-4.84,-4.85,-4.86,-4.88,-4.89,-4.90,-4.92,-4.95,-4.98,-5.01,-5.03,-5.08,-5.16,-5.24,-5.30,-5.36,-5.44,-5.38,-5.32,-5.28,-5.25,-5.22,-5.20,-5.18,-5.17,-5.17,-5.16,-5.16];
var k1_k = [-4.72,-4.72,-4.73,-4.73,-4.73,-4.73,-4.74,-4.74,-4.74,-4.74,-4.74,-4.74,-4.75,-4.75,-4.75,-4.75,-4.75,-4.76,-4.76,-4.77,-4.77,-4.78,-4.78,-4.78,-4.79,-4.79,-4.80,-4.80,-4.81,-4.82,-4.83,-4.84,-4.85,-4.86,-4.88,-4.89,-4.90,-4.92,-4.95,-4.98,-5.01,-5.03,-5.08,-5.16,-5.24,-5.30,-5.40,-5.78,-5.38,-5.32,-5.28,-5.25,-5.22,-5.20,-5.18,-5.17,-5.17,-5.16,-5.16];
var data_k = [-4.70,-4.74,-4.71,-4.76,-4.71,-4.77,-4.72,-4.78,-4.74,-4.79,-4.72,-4.80,-4.74,-4.79,-4.71,-4.82,-4.75,-4.80,-4.74,-4.83,-4.77,-4.81,-4.76,-4.85,-4.77,-4.86,-4.78,-4.89,-4.80,-4.91,-4.81,-4.94,-4.83,-4.96,-4.86,-4.99,-4.89,-4.99,-4.92,-4.99,-4.95,-4.99,-4.99,-4.99,-4.99,-4.99,-4.99,-4.99,-4.99,-4.99,-4.99,-4.99,-4.99,-4.99,-4.99,-4.99,-4.95,-4.99,-4.99];
var low_k = [-4.75,-4.70,-4.76,-4.71,-4.77,-4.72,-4.78,-4.72,-4.79,-4.73,-4.80,-4.73,-4.81,-4.74,-4.80,-4.75,-4.82,-4.75,-4.83,-4.76,-4.84,-4.77,-4.85,-4.78,-4.87,-4.79,-4.88,-4.80];
var mid_k = [-4.73,-4.80,-4.74,-4.81,-4.75,-4.83,-4.76,-4.84,-4.77,-4.86,-4.78,-4.87,-4.79,-4.89,-4.80,-4.91,-4.82,-4.93,-4.84,-4.96,-4.87,-4.99,-4.90,-4.99,-4.94,-4.99,-4.97,-4.99,-4.99,-4.99];
var dense_k = [-4.86,-4.80,-4.90,-4.82,-4.93,-4.85,-4.96,-4.88,-4.99,-4.91,-4.99,-4.95,-4.99,-4.99,-4.99,-4.99,-4.99,-4.99,-4.99,-4.99,-4.99,-4.99,-4.99,-4.99,-4.99,-4.99,-4.99,-4.99,-4.99];
var clust_k = [-4.99,-4.99,-4.96,-4.99,-4.99,-4.99,-4.99,-4.99,-4.99,-4.99,-4.99,-4.99,-4.99,-4.99,-4.99,-4.99,-4.94,-4.99];

var fit_l = [-5.73,-5.73,-5.73,-5.73,-5.73,-5.73,-5.73,-5.73,-5.73,-5.73,-5.74,-5.74,-5.74,-5.74,-5.74,-5.74,-5.75,-5.75,-5.75,-5.75,-5.75,-5.76,-5.76,-5.76,-5.77,-5.77,-5.78,-5.78,-5.79,-5.80,-5.81,-5.82,-5.83,-5.84,-5.86,-5.87,-5.89,-5.90,-5.93,-5.96,-5.99,-6.02,-6.06,-6.11,-6.17,-6.26,-6.34,-6.48,-6.35,-6.29,-6.26,-6.23,-6.20,-6.18,-6.17,-6.16,-6.16,-6.16,-6.16];
var k1_l = [-5.73,-5.73,-5.73,-5.73,-5.73,-5.73,-5.73,-5.73,-5.73,-5.73,-5.74,-5.74,-5.74,-5.74,-5.74,-5.74,-5.75,-5.75,-5.75,-5.75,-5.75,-5.76,-5.76,-5.76,-5.77,-5.77,-5.78,-5.78,-5.79,-5.80,-5.81,-5.82,-5.83,-5.84,-5.86,-5.87,-5.89,-5.90,-5.93,-5.96,-5.99,-6.02,-6.06,-6.11,-6.17,-6.26,-6.38,-6.76,-6.35,-6.29,-6.26,-6.23,-6.20,-6.18,-6.17,-6.16,-6.16,-6.16,-6.16];
var data_l = [-5.70,-5.76,-5.71,-5.76,-5.70,-5.76,-5.72,-5.77,-5.70,-5.78,-5.72,-5.76,-5.71,-5.79,-5.73,-5.77,-5.70,-5.89,-5.74,-5.79,-5.73,-5.81,-5.74,-5.83,-5.76,-5.84,-5.77,-5.86,-5.79,-5.88,-5.81,-5.92,-5.82,-5.95,-5.83,-5.98,-5.86,-6.00,-5.88,-6.00,-5.93,-6.00,-5.97,-6.00,-6.00,-6.00,-6.00,-6.00,-6.00,-6.00,-5.93,-6.00,-6.00,-6.00,-5.95,-6.00,-5.97,-6.00,-6.00];
var low_l = [-5.76,-5.70,-5.77,-5.71,-5.76,-5.70,-5.77,-5.72,-5.78,-5.71,-5.77,-5.72,-5.79,-5.73,-5.78,-5.72,-5.80,-5.74,-5.79,-5.75,-5.81,-5.75,-5.82,-5.76,-5.84,-5.77,-5.85,-5.78];
var mid_l = [-5.72,-5.79,-5.73,-5.80,-5.74,-5.81,-5.75,-5.83,-5.76,-5.84,-5.77,-5.86,-5.78,-5.88,-5.80,-5.90,-5.82,-5.92,-5.84,-5.95,-5.87,-5.98,-5.90,-6.00,-5.93,-6.00,-5.97,-6.00,-6.00,-6.00];
var dense_l = [-5.86,-5.80,-5.90,-5.82,-5.93,-5.85,-5.96,-5.88,-5.99,-5.91,-6.00,-5.95,-6.00,-6.00,-6.00,-6.00,-6.00,-6.00,-6.00,-6.00,-6.00,-6.00,-6.00,-6.00,-6.00,-6.00,-6.00,-6.00,-6.00];
var clust_l = [-6.00,-6.00,-6.00,-6.00,-5.97,-6.00,-6.00,-6.00,-6.00,-6.00,-6.00,-5.96,-6.00,-6.00,-6.00,-6.00,-5.92,-6.00];

// labels
var panelLetters = ["A", "B"];
var panelTemps = ["1", "0.1"];
var rowLetters = [["a","b","c","d","e","f"], ["g","h","i","j","k","l"]];
var rsValues = ["1.0", "0.4", "0.08", "0.002", "0.0004", "0.0002"];
var kColors = ["#0000ff", "#ff0000", "#ffa500", "#008000"];

// table built from the arrays above: [fit, K=1, then generated data on qGrid, qLow, qMid, qDense, qCluster]
var panels = [
  [[fit_a,k1_a,data_a,low_a,mid_a,dense_a,clust_a],[fit_b,k1_b,data_b,low_b,mid_b,dense_b,clust_b],
   [fit_c,k1_c,data_c,low_c,mid_c,dense_c,clust_c],[fit_d,k1_d,data_d,low_d,mid_d,dense_d,clust_d],
   [fit_e,k1_e,data_e,low_e,mid_e,dense_e,clust_e],[fit_f,k1_f,data_f,low_f,mid_f,dense_f,clust_f]],
  [[fit_g,k1_g,data_g,low_g,mid_g,dense_g,clust_g],[fit_h,k1_h,data_h,low_h,mid_h,dense_h,clust_h],
   [fit_i,k1_i,data_i,low_i,mid_i,dense_i,clust_i],[fit_j,k1_j,data_j,low_j,mid_j,dense_j,clust_j],
   [fit_k,k1_k,data_k,low_k,mid_k,dense_k,clust_k],[fit_l,k1_l,data_l,low_l,mid_l,dense_l,clust_l]]
];
var dataGrids = [qGrid, qLow, qMid, qDense, qCluster];

// layout
var W = 771, H = 1295;
var panelLeft = [71.5, 439.5];
var plotW = 337.5, plotTop = 205, plotBottom = 1185;
var qDomain = [0.0864, 3.376];
var lgDomain = [0.56, -6.853];
var labelBase = [295, 437, 585, 753, 891, 1022];
var boxW = [136, 161];

var svg = d3.select("#chart").append("svg")
  .attr("width", W).attr("height", H);

function zip(qs, vs) {
  return qs.map(function(q, i) { return [q, vs[i]]; });
}

function drawPanel(pi) {
  var left = panelLeft[pi];
  var x = d3.scaleLog().domain(qDomain).range([left, left + plotW]);
  var y = d3.scaleLinear().domain(lgDomain).range([plotTop, plotBottom]);
  var g = svg.append("g");

  var clipId = "clip" + pi;
  svg.append("clipPath").attr("id", clipId).append("rect")
    .attr("x", left).attr("y", plotTop).attr("width", plotW).attr("height", plotBottom - plotTop);
  var plot = g.append("g").attr("clip-path", "url(#" + clipId + ")");

  var line = d3.line()
    .x(function(d) { return x(d[0]); })
    .y(function(d) { return y(d[1]); })
    .curve(d3.curveMonotoneX);

  panels[pi].forEach(function(row) {
    var fit = row[0], k1 = row[1];
    // theoretical curve
    plot.append("path").attr("d", line(zip(qGrid, fit)))
      .attr("fill", "none").attr("stroke", "#000").attr("stroke-opacity", 0.8)
      .attr("stroke-width", 2.5).attr("stroke-dasharray", "14,5");
    // generated data
    var pts = [];
    dataGrids.forEach(function(qs, j) { pts = pts.concat(zip(qs, row[j + 2])); });
    plot.selectAll(null).data(pts).enter().append("circle")
      .attr("cx", function(d) { return x(d[0]); })
      .attr("cy", function(d) { return y(d[1]); })
      .attr("r", 4.7).attr("fill", "none")
      .attr("stroke", "#000").attr("stroke-opacity", 0.55).attr("stroke-width", 1.5);
    // fits K = 1..4
    [k1, fit, fit, fit].forEach(function(vals, k) {
      plot.append("path").attr("d", line(zip(qGrid, vals)))
        .attr("fill", "none").attr("stroke", kColors[k]).attr("stroke-opacity", 0.5)
        .attr("stroke-width", 5).attr("stroke-linejoin", "round");
    });
  });

  // ticks, all pointing inwards
  var majorQ = [0.1, 1];
  var minorQ = [0.09, 0.2, 0.3, 0.4, 0.5, 0.6, 0.7, 0.8, 0.9, 2, 3];
  var yTicks = [0, -1, -2, -3, -4, -5, -6];
  function clean(sel) {
    sel.select(".domain").remove();
    sel.selectAll("line").attr("stroke-width", 2.5);
    sel.selectAll("text").remove();
  }
  [[d3.axisBottom, plotBottom], [d3.axisTop, plotTop]].forEach(function(a) {
    g.append("g").attr("transform", "translate(0," + a[1] + ")")
      .call(a[0](x).tickValues(majorQ).tickSize(-12).tickFormat("")).call(clean);
    g.append("g").attr("transform", "translate(0," + a[1] + ")")
      .call(a[0](x).tickValues(minorQ).tickSize(-8).tickFormat("")).call(clean);
  });
  g.append("g").attr("transform", "translate(" + left + ",0)")
    .call(d3.axisLeft(y).tickValues(yTicks).tickSize(-12).tickFormat("")).call(clean);
  g.append("g").attr("transform", "translate(" + (left + plotW) + ",0)")
    .call(d3.axisRight(y).tickValues(yTicks).tickSize(-12).tickFormat("")).call(clean);

  // frame
  g.append("rect").attr("x", left).attr("y", plotTop)
    .attr("width", plotW).attr("height", plotBottom - plotTop)
    .attr("fill", "none").attr("stroke", "#000").attr("stroke-width", 3.5);

  // panel title
  g.append("rect").attr("x", left + 6.5).attr("y", 219)
    .attr("width", boxW[pi]).attr("height", 49).attr("fill", "#ebebeb");
  var tt = g.append("text").attr("x", left + 16).attr("y", 255).attr("font-size", 36);
  tt.append("tspan").attr("font-weight", "bold").text(panelLetters[pi]);
  tt.append("tspan").text(". ");
  tt.append("tspan").attr("font-style", "italic").text("T");
  tt.append("tspan").text(" = " + panelTemps[pi]);

  // curve labels
  rsValues.forEach(function(rs, i) {
    var t = g.append("text").attr("x", left + 18.5).attr("y", labelBase[i]).attr("font-size", 29.5);
    t.append("tspan").text("(" + rowLetters[pi][i] + ") ");
    t.append("tspan").attr("font-style", "italic").text("r");
    t.append("tspan").attr("font-style", "italic").attr("font-size", 21).attr("dy", 6).text("S");
    t.append("tspan").attr("dy", -6).text(" = " + rs);
  });

  // tick labels
  [[0.1, "\u22121", 4], [1, "0", 1]].forEach(function(tl) {
    var t = g.append("text").attr("x", x(tl[0]) + tl[2]).attr("y", 1243)
      .attr("text-anchor", "middle").attr("font-size", 44);
    t.append("tspan").text("10");
    t.append("tspan").attr("font-size", 31).attr("dy", -27).text(tl[1]);
  });

  // x label
  var xl = g.append("text").attr("x", left + plotW / 2 + 2).attr("y", 1286)
    .attr("text-anchor", "middle").attr("font-size", 47);
  xl.append("tspan").attr("font-style", "italic").text("q");
  xl.append("tspan").text(" (nm");
  xl.append("tspan").attr("font-size", 32).attr("dy", -19).text("\u22121");
  xl.append("tspan").attr("dy", 19).text(")");
}

drawPanel(0);
drawPanel(1);

// y label
svg.append("text")
  .attr("transform", "translate(46,720) rotate(-90) scale(1.08,1)")
  .attr("text-anchor", "middle").attr("font-size", 50)
  .text("Intensity (a.u.)");

// legend
var leg = svg.append("g");
leg.append("rect").attr("x", 503.5).attr("y", 10.5).attr("width", 300).attr("height", 184)
  .attr("fill", "#fff").attr("stroke", "#000").attr("stroke-width", 3.5);
var rowsY = [33, 62, 87, 114, 141, 167];
leg.append("line").attr("x1", 513).attr("x2", 549).attr("y1", rowsY[0]).attr("y2", rowsY[0])
  .attr("stroke", "#000").attr("stroke-opacity", 0.8).attr("stroke-width", 4).attr("stroke-dasharray", "15,5");
leg.append("circle").attr("cx", 531).attr("cy", rowsY[1]).attr("r", 4.7)
  .attr("fill", "none").attr("stroke", "#000").attr("stroke-opacity", 0.4).attr("stroke-width", 1.5);
kColors.forEach(function(c, k) {
  leg.append("line").attr("x1", 513).attr("x2", 549).attr("y1", rowsY[k + 2]).attr("y2", rowsY[k + 2])
    .attr("stroke", c).attr("stroke-opacity", 0.5).attr("stroke-width", 4);
});
var legendText = ["Theoretical Curve", "Generated Data"];
legendText.forEach(function(s, i) {
  leg.append("text").attr("x", 563).attr("y", rowsY[i] + 10).attr("font-size", 27.5).text(s);
});
[1, 2, 3, 4].forEach(function(k, i) {
  var t = leg.append("text").attr("x", 563).attr("y", rowsY[i + 2] + 10).attr("font-size", 27.5);
  t.append("tspan").attr("font-style", "italic").text("K");
  t.append("tspan").text("=" + k);
});
</script>
</body>
</html>
